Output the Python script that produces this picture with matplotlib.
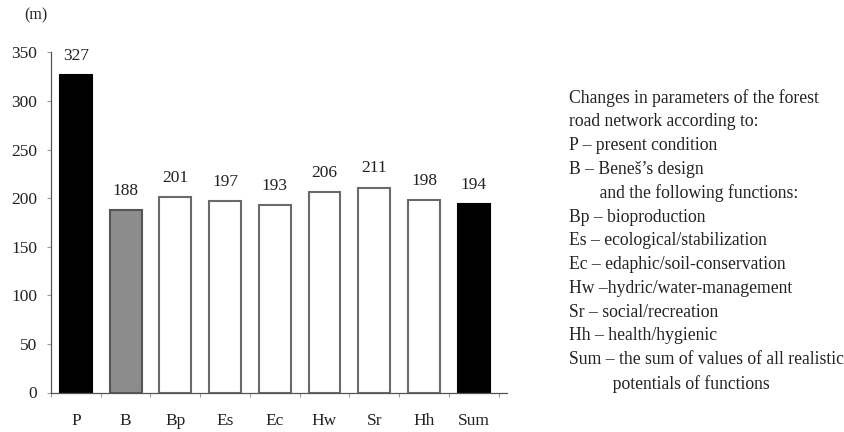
import matplotlib
matplotlib.use("Agg")
import matplotlib.pyplot as plt
import numpy as np

categories = ["P", "B", "Bp", "Es", "Ec", "Hw", "Sr", "Hh", "Sum"]
values = [327, 188, 201, 197, 193, 206, 211, 198, 194]
bar_colors = ["#000000", "#8c8c8c", "#ffffff", "#ffffff", "#ffffff", "#ffffff", "#ffffff", "#ffffff", "#000000"]
edge_colors = ["#000000", "#555555", "#6a6a6a", "#6a6a6a", "#6a6a6a", "#6a6a6a", "#6a6a6a", "#6a6a6a", "#000000"]
yticks = [0, 50, 100, 150, 200, 250, 300, 350]
legend_lines = [
    "Changes in parameters of the forest",
    "road network according to:",
    "P \u2013 present condition",
    "B \u2013 Bene\u0161\u2019s design",
    "       and the following functions:",
    "Bp \u2013 bioproduction",
    "Es \u2013 ecological/stabilization",
    "Ec \u2013 edaphic/soil-conservation",
    "Hw \u2013hydric/water-management",
    "Sr \u2013 social/recreation",
    "Hh \u2013 health/hygienic",
    "Sum \u2013 the sum of values of all realistic",
    "          potentials of functions",
]

plt.rcParams['font.family'] = ['Liberation Serif', 'DejaVu Serif']

fig = plt.figure(figsize=(8.45, 4.32), dpi=100)
ax = fig.add_axes([51 / 845, 1 - 392.5 / 432, 456 / 845, 340 / 432])

x = np.arange(len(categories))
ax.bar(x, values, width=0.64, color=bar_colors, edgecolor=edge_colors, linewidth=1.5, zorder=2)
for xi, v in zip(x, values):
    ax.annotate(str(v), (xi, v), xytext=(0, 8), textcoords="offset points",
                ha="center", va="bottom", fontsize=12.5, color="#222222")

ax.set_xlim(-0.5, len(categories) - 0.5 + 0.17)
ax.set_ylim(0, 350)
ax.set_yticks(yticks)
ax.set_yticklabels([str(t) for t in yticks], fontsize=12.5, color="#222222")
ax.set_xticks(x)
ax.set_xticklabels(categories, fontsize=12.5, color="#222222")
ax.tick_params(axis='x', length=0, pad=15)
ax.tick_params(axis='y', length=3, width=0.8, color="#999999", pad=7)
ax.set_xticks(np.arange(-0.5, len(categories), 1.0), minor=True)
ax.tick_params(axis='x', which='minor', length=3, width=0.8, color="#999999")
for s in ["top", "right"]:
    ax.spines[s].set_visible(False)
ax.spines["left"].set_color("#555555")
ax.spines["bottom"].set_color("#555555")
ax.spines["left"].set_linewidth(0.9)
ax.spines["bottom"].set_linewidth(0.9)

fig.text(36 / 845, 1 - 15 / 432, "(m)", fontsize=11.5, ha="center", va="center", color="#222222")

y0 = 1 - 98 / 432
dy = 23.8 / 432
for i, line in enumerate(legend_lines):
    fig.text(569 / 845, y0 - i * dy, line, fontsize=12.7, ha="left", va="center", color="#222222")

fig.savefig("out.png", dpi=100)
